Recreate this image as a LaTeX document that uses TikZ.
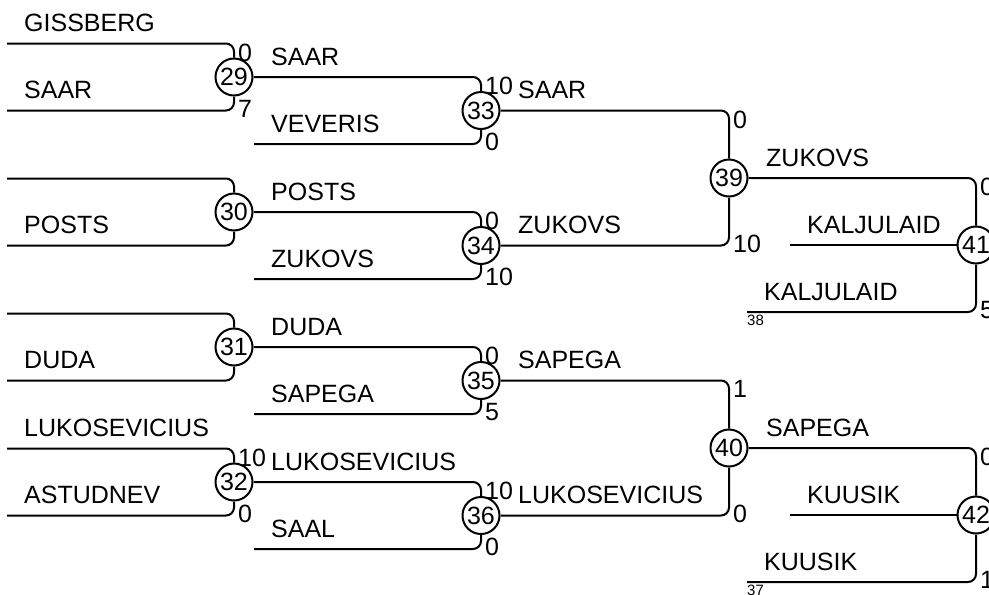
\documentclass[tikz,border=0pt]{standalone}
\usepackage{fontspec}
\setmainfont{Liberation Sans}
\usetikzlibrary{positioning}
\tikzset{matchnode/.style={circle, draw=black, line width=2pt, minimum size=37pt, inner sep=0pt, font=\fontsize{25}{25}\selectfont},
namenode/.style={anchor=base west, inner sep=0pt, font=\fontsize{25}{25}\selectfont},
scoretop/.style={anchor=north west, inner sep=0pt, font=\fontsize{25}{25}\selectfont},
scorebottom/.style={anchor=west, inner sep=0pt, font=\fontsize{25}{25}\selectfont},
seednode/.style={anchor=north west, inner sep=0pt, font=\fontsize{15}{15}\selectfont}}

\begin{document}
\begin{tikzpicture}[
        x=1pt, y=-1pt,
        line join=round,
        bracketline/.style={draw=black, line width=2pt, rounded corners=8pt}
    ]
        \useasboundingbox (0,0) rectangle (989,595);
        \clip (0,0) rectangle (989,595);
        % Round 1
        \foreach \m/\c in {29/77, 30/212, 31/347, 32/482} {
            \node[matchnode] (m\m) at (234, \c) {\m};
            \coordinate (t\m) at (7, \c-33.5);
            \coordinate (b\m) at (7, \c+33.5);
            \draw[bracketline] (t\m) -| (m\m);
            \draw[bracketline] (b\m) -| (m\m);
        }
        % Round 2
        \foreach \m/\w/\c in {33/29/110.5, 34/30/245.5, 35/31/380.5, 36/32/515.5} {
            \node[matchnode] (m\m) at (481, \c) {\m};
            \coordinate (b\m) at (254, \c+33.5);
            \draw[bracketline] (m\w) -| (m\m);
            \draw[bracketline] (b\m) -| (m\m);
        }
        % Round 3
        \foreach \m/\u/\d/\c in {39/33/34/178, 40/35/36/448} {
            \node[matchnode] (m\m) at (729, \c) {\m};
            \draw[bracketline] (m\u) -| (m\m);
            \draw[bracketline] (m\d) -| (m\m);
        }
        % Round 4
        \foreach \m/\w/\c/\seed in {41/39/245/38, 42/40/515/37} {
            \node[matchnode] (m\m) at (976, \c) {\m};
            \coordinate (c\m) at (790, \c);
            \coordinate (b\m) at (747, \c+67);
            \draw[bracketline] (m\w) -| (m\m);
            \draw[bracketline] (c\m) -- (m\m);
            \draw[bracketline] (b\m) -| (m\m);
            \node[seednode, yshift=-3pt] (s\m) at (b\m) {\seed};
        }
        % Names of the winners
        \foreach \w/\txt in {29/SAAR, 30/POSTS, 31/DUDA, 32/LUKOSEVICIUS,
            33/SAAR, 34/ZUKOVS, 35/SAPEGA, 36/LUKOSEVICIUS, 39/ZUKOVS, 40/SAPEGA} {
            \node[namenode] (w\w) at ([shift={(37,-12)}]m\w) {\txt};
        }
        % Names of the entries
        \foreach \p/\txt in {t29/GISSBERG, b29/SAAR, b30/POSTS, b31/DUDA, t32/LUKOSEVICIUS,
            b32/ASTUDNEV, b33/VEVERIS, b34/ZUKOVS, b35/SAPEGA, b36/SAAL,
            c41/KALJULAID, b41/KALJULAID, c42/KUUSIK, b42/KUUSIK} {
            \node[namenode] (n\p) at ([shift={(17,-12)}]\p) {\txt};
        }
        % Scores
        \foreach \m/\up/\down/\st/\sb in {29/t29/b29/0/7, 32/t32/b32/10/0,
            33/m29/b33/10/0, 34/m30/b34/0/10, 35/m31/b35/0/5, 36/m32/b36/10/0,
            39/m33/m34/0/10, 40/m35/m36/1/0, 41/m39/b41/0/5, 42/m40/b42/0/1} {
            \node[scoretop, xshift=4pt] (st\m) at (\up -| m\m) {\st};
            \node[scorebottom, xshift=4pt, yshift=2pt] (sb\m) at (\down -| m\m) {\sb};
        }
    \end{tikzpicture}
\end{document}
